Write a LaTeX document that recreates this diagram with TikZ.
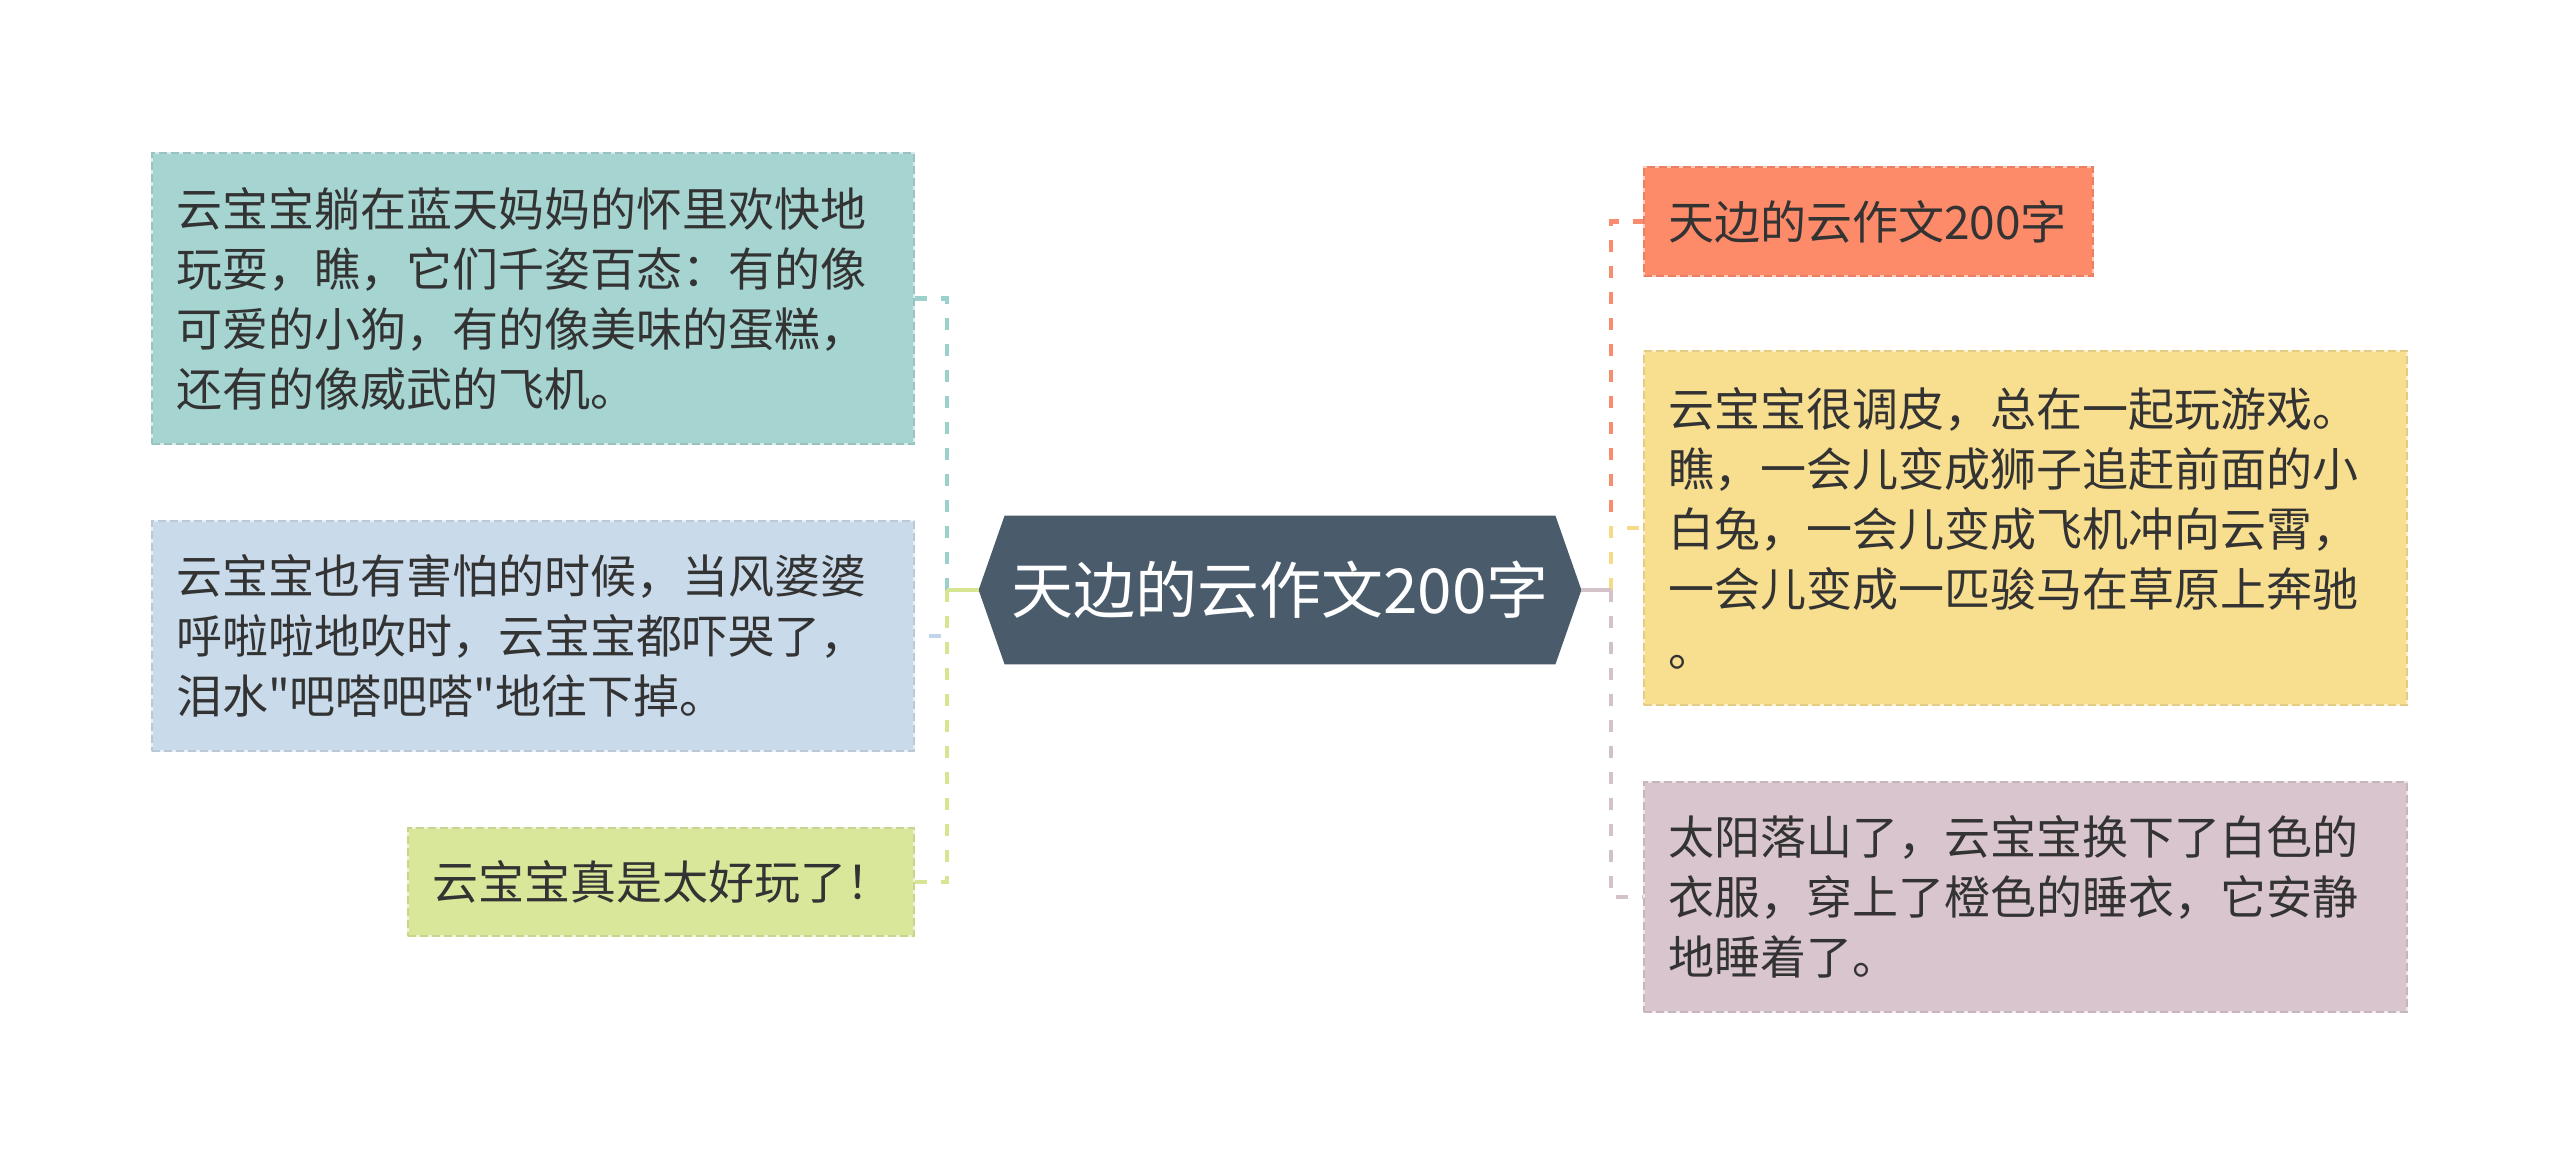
\documentclass[tikz,border=0pt]{standalone}
\usepackage{fontspec}
\setmainfont{Noto Sans CJK SC}[Ligatures=TeXOff]
\usetikzlibrary{calc,backgrounds}
\definecolor{tealf}{HTML}{A5D4D1}
\definecolor{bluef}{HTML}{C9DAEA}
\definecolor{greenf}{HTML}{D9E79B}
\definecolor{orangef}{HTML}{FD8B69}
\definecolor{yellowf}{HTML}{F8DE8F}
\definecolor{purplef}{HTML}{D8C5CE}
\definecolor{tealc}{HTML}{9CD0CB}
\definecolor{bluec}{HTML}{C2D5EA}
\definecolor{greenc}{HTML}{D6E592}
\definecolor{orangec}{HTML}{F98C6E}
\definecolor{yellowc}{HTML}{F6DA88}
\definecolor{purplec}{HTML}{D4C2CB}
\definecolor{hexf}{HTML}{4A5C6C}
\definecolor{txt}{HTML}{333333}
\begin{document}
\begin{tikzpicture}[x=0.5pt,y=-0.5pt,
  box/.style={rectangle, draw=#1!45!white, fill=#1, line width=1.4pt,
    postaction={draw=#1!92!black, dash pattern=on 4pt off 2pt, line width=1.4pt},
    inner xsep=12pt, inner ysep=0pt, align=left, text=txt,
    font=\fontsize{23pt}{30pt}\selectfont, anchor=center},
  conn/.style={draw=#1, line width=2.2pt, dash pattern=on 6pt off 7pt},
  stub/.style={draw=#1, line width=2.2pt}]
\useasboundingbox (0,0) rectangle (2560,1165);

% central topic
\node[minimum width=301pt, minimum height=74pt, inner sep=0pt, text=white,
  font=\fontsize{31pt}{31pt}\selectfont] (c) at (1280,590) {天边的云作文200字};
\begin{pgfonlayer}{background}
\fill[hexf] ($(c.north west)+(26,0)$) -- ($(c.north east)+(-26,0)$) -- (c.east)
  -- ($(c.south east)+(-26,0)$) -- ($(c.south west)+(26,0)$) -- (c.west) -- cycle;
\end{pgfonlayer}

% left branches
\node[box=tealf, text width=357pt, minimum height=145.5pt] (n1) at (533,298.5)
  {云宝宝躺在蓝天妈妈的怀里欢快地\\玩耍，瞧，它们千姿百态：有的像\\可爱的小狗，有的像美味的蛋糕，\\还有的像威武的飞机。};
\node[box=bluef, text width=357pt, minimum height=115pt] (n2) at (533,636)
  {云宝宝也有害怕的时候，当风婆婆\\呼啦啦地吹时，云宝宝都吓哭了，\\泪水"吧嗒吧嗒"地往下掉。};
\node[box=greenf, text width=229pt, minimum height=54pt] (n3) at (661,882)
  {云宝宝真是太好玩了！};

% right branches
\node[box=orangef, text width=200.5pt, minimum height=54.5pt] (n4) at (1868.5,221.5)
  {天边的云作文200字};
\node[box=yellowf, text width=357.5pt, minimum height=177pt] (n5) at (2025.5,528)
  {云宝宝很调皮，总在一起玩游戏。\\瞧，一会儿变成狮子追赶前面的小\\白兔，一会儿变成飞机冲向云霄，\\一会儿变成一匹骏马在草原上奔驰\\。};
\node[box=purplef, text width=357.5pt, minimum height=115pt] (n6) at (2025.5,897)
  {太阳落山了，云宝宝换下了白色的\\衣服，穿上了橙色的睡衣，它安静\\地睡着了。};

% connectors
\coordinate (lj) at (947,590);
\coordinate (rj) at (1611,590);
\draw[conn=tealc] (lj) |- (n1.east);
\draw[conn=bluec] (lj) |- (n2.east);
\draw[conn=greenc] (lj) |- (n3.east);
\draw[stub=greenc] (c.west) -- (lj);
\draw[conn=orangec] (rj) |- (n4.west);
\draw[conn=yellowc] (rj) |- (n5.west);
\draw[conn=purplec] (rj) |- (n6.west);
\draw[stub=purplec] (c.east) -- (rj);
\end{tikzpicture}
\end{document}
